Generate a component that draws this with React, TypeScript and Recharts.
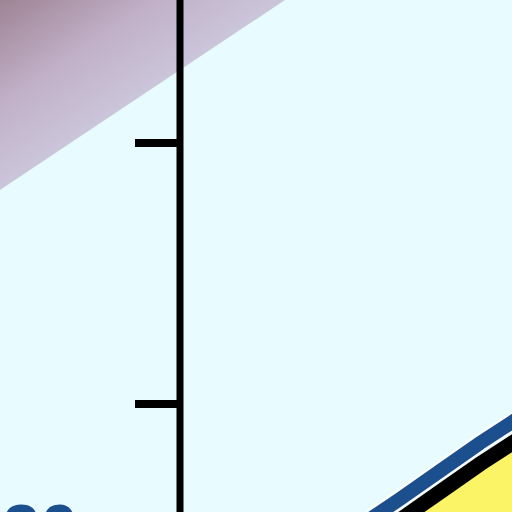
import { ComposedChart, Area, Line, XAxis, YAxis, ReferenceLine } from "recharts"

// plot units: x runs left to right, y runs bottom to top (0..512)
const BAND_X = [0, 300]
const BAND_LOW = [322, 522]
const BAND_HIGH = [620, 620]

const CURVE_X = [360, 400, 440, 480, 520]
const BLUE_VALUES = [-14, 13, 41, 69, 95]
const YELLOW_VALUES = [-35, -8, 20, 48, 74]

const AXIS_X = 180
const Y_TICKS = [369, 108]
const TICK_LEN = 45

const LABEL_TEXT = "20"

const bandData = BAND_X.map((x, i) => ({ x, range: [BAND_LOW[i], BAND_HIGH[i]] }))
const curveData = CURVE_X.map((x, i) => ({ x, blue: BLUE_VALUES[i], yellow: YELLOW_VALUES[i] }))

export default function App() {
  return (
    <div style={{ position: "absolute", left: 0, top: 0, width: 512, height: 512, background: "#e8fcff", overflow: "hidden" }}>
      <ComposedChart width={512} height={512} margin={{ top: 0, right: 0, bottom: 0, left: 0 }}>
        <defs>
          <linearGradient id="band" gradientUnits="userSpaceOnUse" x1={88} y1={132} x2={0} y2={0}>
            <stop offset="0%" stopColor="#cbc6da" />
            <stop offset="45%" stopColor="#c1b0c8" />
            <stop offset="100%" stopColor="#9e8495" />
          </linearGradient>
        </defs>
        <XAxis type="number" dataKey="x" domain={[0, 512]} allowDataOverflow hide />
        <YAxis type="number" domain={[0, 512]} allowDataOverflow hide />
        <Area
          data={bandData}
          dataKey="range"
          type="linear"
          stroke="none"
          fill="url(#band)"
          fillOpacity={1}
          dot={false}
          activeDot={false}
          isAnimationActive={false}
        />
        <Area
          data={curveData}
          dataKey="yellow"
          type="linear"
          stroke="#000000"
          strokeWidth={15}
          fill="#fbf466"
          fillOpacity={1}
          baseValue={-100}
          dot={false}
          activeDot={false}
          isAnimationActive={false}
        />
        <Line
          data={curveData}
          dataKey="blue"
          type="linear"
          stroke="#ffffff"
          strokeWidth={18}
          dot={false}
          activeDot={false}
          isAnimationActive={false}
        />
        <Line
          data={curveData}
          dataKey="blue"
          type="linear"
          stroke="#1c4f8e"
          strokeWidth={14}
          dot={false}
          activeDot={false}
          isAnimationActive={false}
        />
        <ReferenceLine x={AXIS_X} stroke="#000000" strokeWidth={7} />
        {Y_TICKS.map((t) => (
          <ReferenceLine
            key={t}
            segment={[{ x: AXIS_X - TICK_LEN, y: t }, { x: AXIS_X, y: t }]}
            stroke="#000000"
            strokeWidth={8}
          />
        ))}
        <text x={78} y={552} textAnchor="end" fill="#1c4f8e" fontFamily="Liberation Sans" fontWeight="bold" fontSize={68}>
          {LABEL_TEXT}
        </text>
      </ComposedChart>
    </div>
  )
}
